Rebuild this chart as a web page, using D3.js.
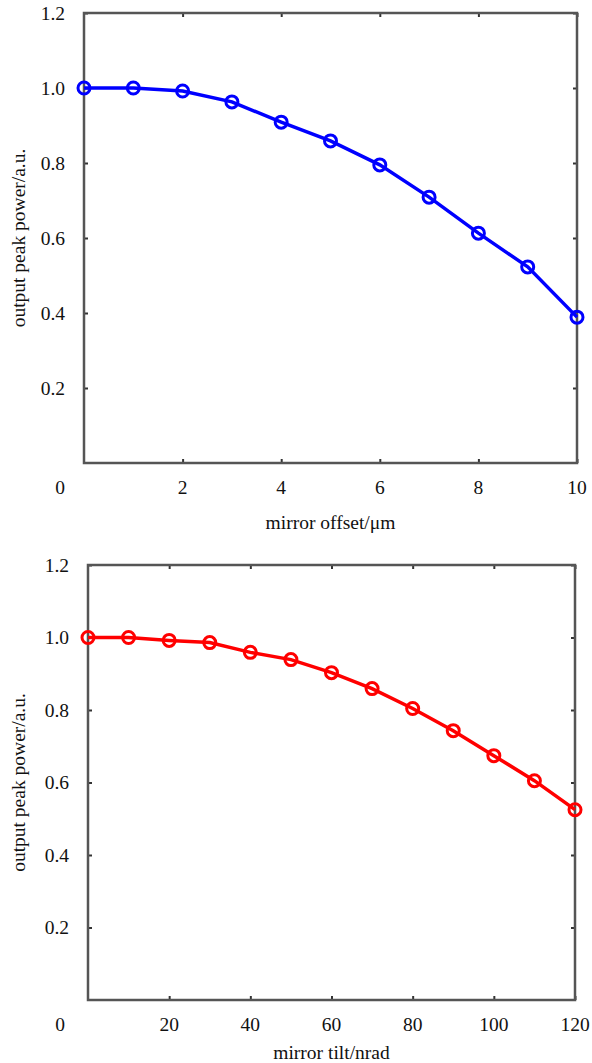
<!DOCTYPE html>
<html>
<head>
<meta charset="utf-8">
<script src="https://d3js.org/d3.v7.min.js"></script>
<style>
  body { margin: 0; background: #fff; }
</style>
</head>
<body>
<div id="chart"></div>
<script>
// offset chart (top)
var offsetX = [0, 1, 2, 3, 4, 5, 6, 7, 8, 9, 10];
var offsetPower = [1.0, 1.0, 0.992, 0.963, 0.909, 0.859, 0.795, 0.709, 0.613, 0.523, 0.389];
var offsetTicks = [2, 4, 6, 8, 10];

// tilt chart (bottom)
var tiltX = [0, 10, 20, 30, 40, 50, 60, 70, 80, 90, 100, 110, 120];
var tiltPower = [1.0, 1.0, 0.992, 0.986, 0.959, 0.939, 0.903, 0.859, 0.804, 0.743, 0.674, 0.605, 0.525];
var tiltTicks = [20, 40, 60, 80, 100, 120];

var yTicks = [0.2, 0.4, 0.6, 0.8, 1.0, 1.2];

var W = 592, H = 1063;
var FONT = "'Liberation Serif', 'DejaVu Serif', 'Times New Roman', serif";
var svg = d3.select("#chart").append("svg")
  .attr("width", W)
  .attr("height", H);

drawPanel({left: 84, right: 577, top: 13, bottom: 463, titleGap: 59},
  offsetX, offsetPower, [0, 10], offsetTicks, "#0000ff", "mirror offset/\u03bcm");
drawPanel({left: 88, right: 575, top: 565, bottom: 1000, titleGap: 52},
  tiltX, tiltPower, [0, 120], tiltTicks, "#ff0000", "mirror tilt/nrad");

function label(sel) {
  sel.style("font-family", FONT)
    .style("font-size", "19.5px")
    .attr("fill", "#111");
}

function drawPanel(box, xs, ys, xDomain, xTicks, color, xTitle) {
  var x = d3.scaleLinear().domain(xDomain).range([box.left, box.right]);
  var y = d3.scaleLinear().domain([0, 1.2]).range([box.bottom, box.top]);
  var g = svg.append("g");
  var tickLen = 4;

  // inward ticks on all four sides
  g.append("g").attr("transform", "translate(0," + box.bottom + ")")
    .call(d3.axisBottom(x).tickValues(xTicks).tickSize(-tickLen).tickFormat(""))
    .call(styleAxis);
  g.append("g").attr("transform", "translate(0," + box.top + ")")
    .call(d3.axisTop(x).tickValues(xTicks).tickSize(-tickLen).tickFormat(""))
    .call(styleAxis);
  g.append("g").attr("transform", "translate(" + box.left + ",0)")
    .call(d3.axisLeft(y).tickValues(yTicks).tickSize(-tickLen).tickFormat(""))
    .call(styleAxis);
  g.append("g").attr("transform", "translate(" + box.right + ",0)")
    .call(d3.axisRight(y).tickValues(yTicks).tickSize(-tickLen).tickFormat(""))
    .call(styleAxis);

  // frame
  g.append("rect")
    .attr("x", box.left).attr("y", box.top)
    .attr("width", box.right - box.left).attr("height", box.bottom - box.top)
    .attr("fill", "none").attr("stroke", "#555").attr("stroke-width", 2.5);

  // tick labels
  g.selectAll(".ylab").data(yTicks).enter().append("text")
    .attr("x", box.left - 19)
    .attr("y", function(d) { return y(d); })
    .attr("dy", "0.35em")
    .attr("text-anchor", "end")
    .call(label)
    .text(function(d) { return d3.format(".1f")(d); });

  g.selectAll(".xlab").data(xTicks).enter().append("text")
    .attr("x", function(d) { return x(d); })
    .attr("y", box.bottom + 24)
    .attr("dy", "0.35em")
    .attr("text-anchor", "middle")
    .call(label)
    .text(function(d) { return d; });

  // shared origin label
  g.append("text")
    .attr("x", 60).attr("y", box.bottom + 24)
    .attr("dy", "0.35em")
    .attr("text-anchor", "middle")
    .call(label)
    .text("0");

  g.append("text")
    .attr("x", (box.left + box.right) / 2)
    .attr("y", box.bottom + box.titleGap)
    .attr("dy", "0.35em")
    .attr("text-anchor", "middle")
    .call(label)
    .text(xTitle);

  g.append("text")
    .attr("transform", "translate(18," + (box.top + box.bottom) / 2 + ") rotate(-90)")
    .attr("dy", "0.35em")
    .attr("text-anchor", "middle")
    .call(label)
    .text("output peak power/a.u.");

  // series
  var pts = xs.map(function(d, i) { return [d, ys[i]]; });
  var line = d3.line()
    .x(function(d) { return x(d[0]); })
    .y(function(d) { return y(d[1]); });

  g.append("path")
    .datum(pts)
    .attr("d", line)
    .attr("fill", "none")
    .attr("stroke", color)
    .attr("stroke-width", 3.5);

  g.selectAll(".pt").data(pts).enter().append("circle")
    .attr("cx", function(d) { return x(d[0]); })
    .attr("cy", function(d) { return y(d[1]); })
    .attr("r", 6)
    .attr("fill", "none")
    .attr("stroke", color)
    .attr("stroke-width", 3);
}

function styleAxis(sel) {
  sel.select(".domain").remove();
  sel.selectAll(".tick line").attr("stroke", "#333").attr("stroke-width", 2);
}
</script>
</body>
</html>
